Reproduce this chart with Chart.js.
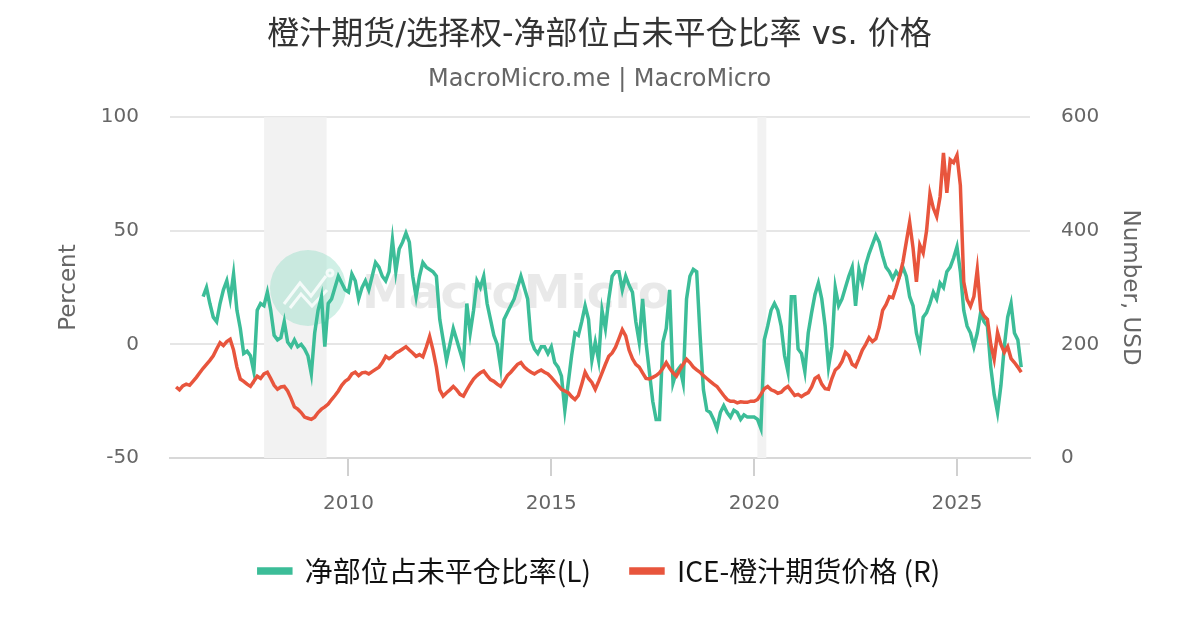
<!DOCTYPE html>
<html>
<head>
<meta charset="utf-8">
<script src="https://cdn.jsdelivr.net/npm/chart.js@4.4.1/dist/chart.umd.min.js"></script>
<style>
  html, body { margin: 0; padding: 0; background: #fff; }
  #wrap { width: 1200px; height: 630px; }
</style>
</head>
<body>
<div id="wrap"><canvas id="ojChart" width="1200" height="630"></canvas></div>
<script>
// monthly readings, first month given as decimal year
let priceStart = 2005 + 9 / 12;   // Oct 2005
let priceValues = [
  125, 120, 127,
  130, 128, 135, 142, 150, 158, 165, 172, 180, 192, 203, 198,
  205, 209, 190, 160, 139, 135, 130, 126, 135, 144, 140, 148,
  151, 140, 128, 121, 125, 126, 118, 105, 90, 86, 80, 72,
  70, 68, 72, 80, 86, 90, 95, 103, 110, 118, 128, 135,
  139, 148, 151, 145, 150, 151, 148, 152, 156, 160, 168, 179,
  175, 179, 185, 188, 192, 196, 190, 185, 179, 182, 178, 195,
  214, 190, 160, 120, 109, 115, 120, 126, 120, 112, 109, 120,
  130, 139, 145, 150, 153, 145, 138, 135, 130, 126, 135, 145,
  151, 158, 165, 168, 160, 155, 151, 148, 152, 155, 151, 148,
  142, 135, 128, 121, 118, 115, 108, 103, 110, 130, 151, 140,
  133, 121, 135, 150, 165, 179, 185, 195, 210, 226, 215, 190,
  175, 165, 160, 150, 140, 139, 142, 145, 150, 158, 168, 158,
  150, 144, 155, 165, 174, 168, 160, 155, 151, 145, 140, 135,
  130, 126, 118, 110, 103, 100, 100, 97, 99, 98, 98, 100,
  100, 103, 112, 122, 126, 120, 118, 114, 116, 122, 126, 118,
  110, 112, 108, 112, 115, 125, 140, 144, 130, 122, 121, 140,
  155, 160, 170, 186, 180, 165, 161, 175, 190, 200, 212, 205,
  210, 230, 260, 270, 284, 282, 300, 320, 345, 380, 415, 370,
  310, 375, 361, 400, 465, 440, 425, 460, 537, 467, 525, 520,
  533, 480, 310, 279, 267, 284, 332, 261, 250, 244, 200, 174,
  221, 200, 186, 196, 175, 168, 160, 151
];

let netStart = 2006 + 5 / 12;     // Jun 2006
let netValues = [
  21, 25, 18, 12, 10, 18, 24,
  28, 20, 31, 15, 7, -4, -3, -5, -12, 15, 18, 17,
  23, 15, 4, 2, 3, 10, 1, -1, 2, -1, 0, -2,
  -5, -13, 5, 15, 21, -1, 18, 20, 25, 30, 27, 24,
  23, 31, 28, 20, 25, 28, 24, 30, 36, 34, 30, 28,
  32, 46, 32, 42, 45, 49, 45, 30, 21, 30, 36, 34,
  33, 32, 30, 11, 2, -7, 0, 7, 2, -3, -8, 18,
  5, 15, 28, 25, 30, 18, 11, 4, 0, -10, 11, 14,
  17, 20, 25, 30, 25, 20, 2, -2, -4, -1, -1, -4,
  -1, -8, -10, -14, -29, -17, -5, 5, 4, 10, 17, 11,
  -7, 1, -7, 15, 7, 20, 30, 32, 32, 24, 30, 26,
  23, 10, 1, 20, 1, -12, -25, -33, -33, 1, 7, 24,
  -17, -12, -10, -17, 20, 30, 33, 32, 4, -20, -29, -30,
  -33, -37, -30, -27, -30, -32, -29, -30, -33, -31, -32, -32,
  -32, -33, -37, 2, 8, 15, 18, 15, 8, -5, -12, 21,
  21, -2, -4, -12, 5, 14, 22, 27, 20, 8, -10, -1,
  25, 17, 20, 25, 30, 34, 17, 33, 27, 35, 40, 44,
  48, 45, 39, 34, 32, 29, 32, 30, 34, 30, 21, 17,
  5, -1, 12, 14, 18, 23, 20, 27, 25, 32, 34, 38,
  43, 32, 15, 8, 5, -1, 5, 14, 10, 8, -10, -22,
  -30, -18, -1, 12, 18, 5, 2, -10
];

let yearTicks = [2010, 2015, 2020, 2025];
let leftTicks = [-50, 0, 50, 100];
let rightTicks = [0, 200, 400, 600];
let recessions = [[2007.92, 2009.46], [2020.08, 2020.3]];

let seriesNames = ['净部位占未平仓比率(L)', 'ICE-橙汁期货价格 (R)'];
let seriesColors = ['#3cbd98', '#e8553d'];

function toPoints(start, values) {
  return values.map((v, i) => ({ x: start + i / 12, y: v }));
}

const latin = '"DejaVu Sans", "Noto Sans CJK SC", sans-serif';
const cjk = '"Noto Sans CJK SC", "DejaVu Sans", sans-serif';

// grey bands + watermark behind the lines
const backdrop = {
  id: 'backdrop',
  beforeDatasetsDraw(chart) {
    const { ctx, chartArea, scales } = chart;
    ctx.save();
    ctx.fillStyle = '#f2f2f2';
    recessions.forEach(r => {
      const x1 = scales.x.getPixelForValue(r[0]);
      const x2 = scales.x.getPixelForValue(r[1]);
      ctx.fillRect(x1, chartArea.top, x2 - x1, chartArea.bottom - chartArea.top);
    });
    // watermark
    ctx.fillStyle = 'rgba(150, 222, 200, 0.45)';
    ctx.beginPath();
    ctx.arc(308, 288, 38, 0, Math.PI * 2);
    ctx.fill();
    ctx.strokeStyle = 'rgba(255,255,255,0.8)';
    ctx.lineWidth = 3;
    ctx.beginPath();
    ctx.moveTo(284, 304); ctx.lineTo(300, 283); ctx.lineTo(311, 296); ctx.lineTo(326, 276);
    ctx.moveTo(290, 308); ctx.lineTo(301, 294); ctx.lineTo(312, 306); ctx.lineTo(327, 290);
    ctx.stroke();
    ctx.beginPath();
    ctx.arc(330, 273, 3, 0, Math.PI * 2);
    ctx.stroke();
    ctx.fillStyle = 'rgba(215, 215, 215, 0.55)';
    ctx.font = 'bold 47px "DejaVu Sans"';
    ctx.textBaseline = 'alphabetic';
    ctx.fillText('MacroMicro', 362, 308);
    ctx.restore();
  }
};

let ctx = document.getElementById('ojChart').getContext('2d');
let ojChart = new Chart(ctx, {
  type: 'line',
  data: {
    datasets: [{
      label: seriesNames[0],
      data: toPoints(netStart, netValues),
      borderColor: seriesColors[0],
      backgroundColor: seriesColors[0],
      borderWidth: 3.5,
      pointRadius: 0,
      tension: 0,
      yAxisID: 'yL',
      order: 2
    }, {
      label: seriesNames[1],
      data: toPoints(priceStart, priceValues),
      borderColor: seriesColors[1],
      backgroundColor: seriesColors[1],
      borderWidth: 3.5,
      pointRadius: 0,
      tension: 0,
      yAxisID: 'yR',
      order: 1
    }]
  },
  plugins: [backdrop],
  options: {
    responsive: false,
    animation: false,
    layout: { padding: { left: 55, right: 56, top: 0, bottom: 35 } },
    plugins: {
      title: {
        display: true,
        text: '橙汁期货/选择权-净部位占未平仓比率 vs. 价格',
        color: '#333',
        font: { family: latin, size: 32, weight: 'normal' },
        padding: { top: 16, bottom: 6 }
      },
      subtitle: {
        display: true,
        text: 'MacroMicro.me | MacroMicro',
        color: '#666',
        font: { family: latin, size: 24 },
        padding: { top: 5, bottom: 23 }
      },
      legend: {
        position: 'bottom',
        labels: {
          color: '#111',
          font: { family: cjk, size: 28 },
          boxWidth: 32,
          boxHeight: 4,
          padding: 40,
          sort: (a, b) => a.datasetIndex - b.datasetIndex
        }
      },
      tooltip: { enabled: false }
    },
    scales: {
      x: {
        type: 'linear',
        min: 2005.6,
        max: 2026.8,
        afterBuildTicks: s => { s.ticks = yearTicks.map(v => ({ value: v })); },
        afterFit: s => { s.height = 59; },
        grid: { drawOnChartArea: false, drawTicks: true, tickLength: 18, color: '#d0d0d0', lineWidth: 2 },
        border: { color: '#d8d8d8', width: 2 },
        ticks: { color: '#666', font: { family: latin, size: 20 }, padding: 16, callback: v => String(v) }
      },
      yL: {
        position: 'left',
        min: -50,
        max: 100,
        afterBuildTicks: s => { s.ticks = leftTicks.map(v => ({ value: v })); },
        afterFit: s => { s.width = 115; },
        grid: { color: '#e6e6e6', lineWidth: 2, drawTicks: false },
        border: { display: false },
        ticks: { color: '#666', font: { family: latin, size: 20 }, padding: 31 },
        title: { display: true, text: 'Percent', color: '#666', font: { family: latin, size: 23 }, padding: 0 }
      },
      yR: {
        position: 'right',
        min: 0,
        max: 600,
        afterBuildTicks: s => { s.ticks = rightTicks.map(v => ({ value: v })); },
        afterFit: s => { s.width = 114; },
        grid: { drawOnChartArea: false, drawTicks: false },
        border: { display: false },
        ticks: { color: '#666', font: { family: latin, size: 20 }, padding: 31 },
        title: { display: true, text: 'Number, USD', color: '#666', font: { family: latin, size: 23 }, padding: 0 }
      }
    }
  }
});
</script>
</body>
</html>
